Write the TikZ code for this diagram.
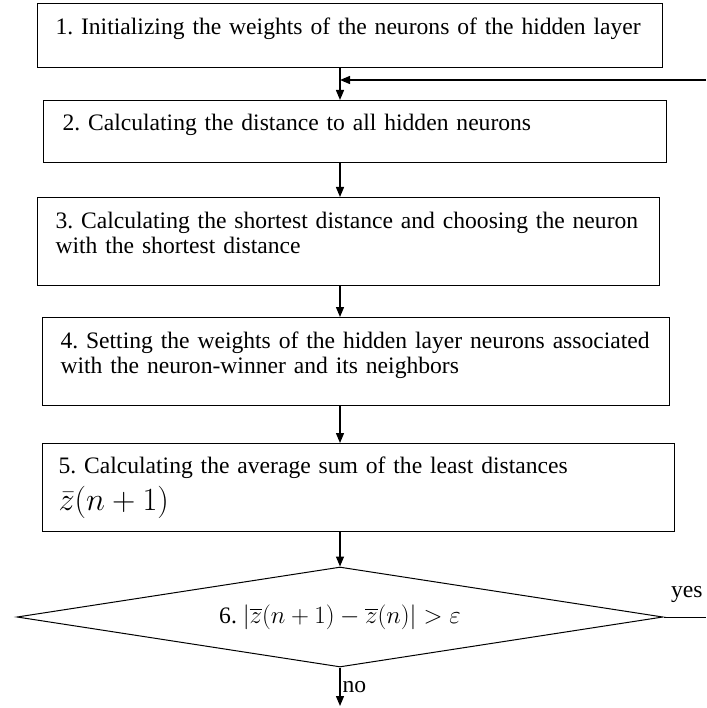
\documentclass[tikz,border=0pt]{standalone}
\usepackage{fontspec}
\setmainfont{Liberation Serif}
\usepackage{amsmath}
\usetikzlibrary{shapes.geometric, arrows.meta, positioning, calc}
\frenchspacing
\hyphenpenalty=10000

\begin{document}
\begin{tikzpicture}[x=1pt, y=-1pt,
  font=\fontsize{23.6}{25}\selectfont,
  stepbox/.style={draw, line width=1pt, anchor=north west, align=left, inner xsep=16pt, inner ysep=0pt},
  arr/.style={line width=1.3pt, -{Triangle[length=10pt, width=8pt]}},
  lbl/.style={inner sep=2pt}]
  \useasboundingbox (0,0) rectangle (706,708);
  \coordinate (axis) at (340,0);
  \coordinate (loop) at (706,80);
  \coordinate (yesend) at (706,617);
  \coordinate (exit) at (340,706);

  % Steps of the algorithm
  \node[stepbox, text width=593pt, minimum height=64pt] (s1) at (37,3) {\hspace*{2pt}1. Initializing the weights of the neurons of the hidden layer\\[-6pt] \mbox{}};
  \node[stepbox, text width=591pt, minimum height=62pt] (s2) at (43,100) {\hspace*{3pt}2. Calculating the distance to all hidden neurons\\[-6pt] \mbox{}};
  \node[stepbox, text width=590pt, minimum height=88pt] (s3) at (37,197) {\hspace*{2pt}3. Calculating the shortest distance and choosing the neuron\\ \hspace*{2pt}with the shortest distance\\[-8pt] \mbox{}};
  \node[stepbox, text width=595pt, minimum height=88pt] (s4) at (42,317) {\hspace*{2pt}4. Setting the weights of the hidden layer neurons associated\\ \hspace*{2pt}with the neuron-winner and its neighbors\\[-8pt] \mbox{}};
  \node[stepbox, text width=600pt, minimum height=88pt] (s5) at (42,443) {5. Calculating the average sum of the least distances\\[7pt] \scalebox{1.3}{$\bar{z}(n+1)$}\\[-18pt] \mbox{}};

  % Stopping test
  \node[draw, diamond, line width=1pt, aspect=6.46, minimum width=646pt, minimum height=100pt, inner sep=0pt] (s6) at (340,617) {6. $\left|\overline{z}(n+1)-\overline{z}(n)\right|>\varepsilon$};

  % Connectors
  \draw[arr] (s1.south -| axis) -- (s2.north -| axis);
  \draw[arr] (s2.south -| axis) -- (s3.north -| axis);
  \draw[arr] (s3.south -| axis) -- (s4.north -| axis);
  \draw[arr] (s4.south -| axis) -- (s5.north -| axis);
  \draw[arr] (s5.south -| axis) -- (s6.north);
  \draw[arr] (s6.south) -- (exit) node[lbl, right, midway] {no};
  \draw[line width=1pt] (s6.east) -- (yesend) node[lbl, above=12pt, pos=0.55] {yes};
  \draw[arr] (loop) -- (loop -| axis);
\end{tikzpicture}
\end{document}
